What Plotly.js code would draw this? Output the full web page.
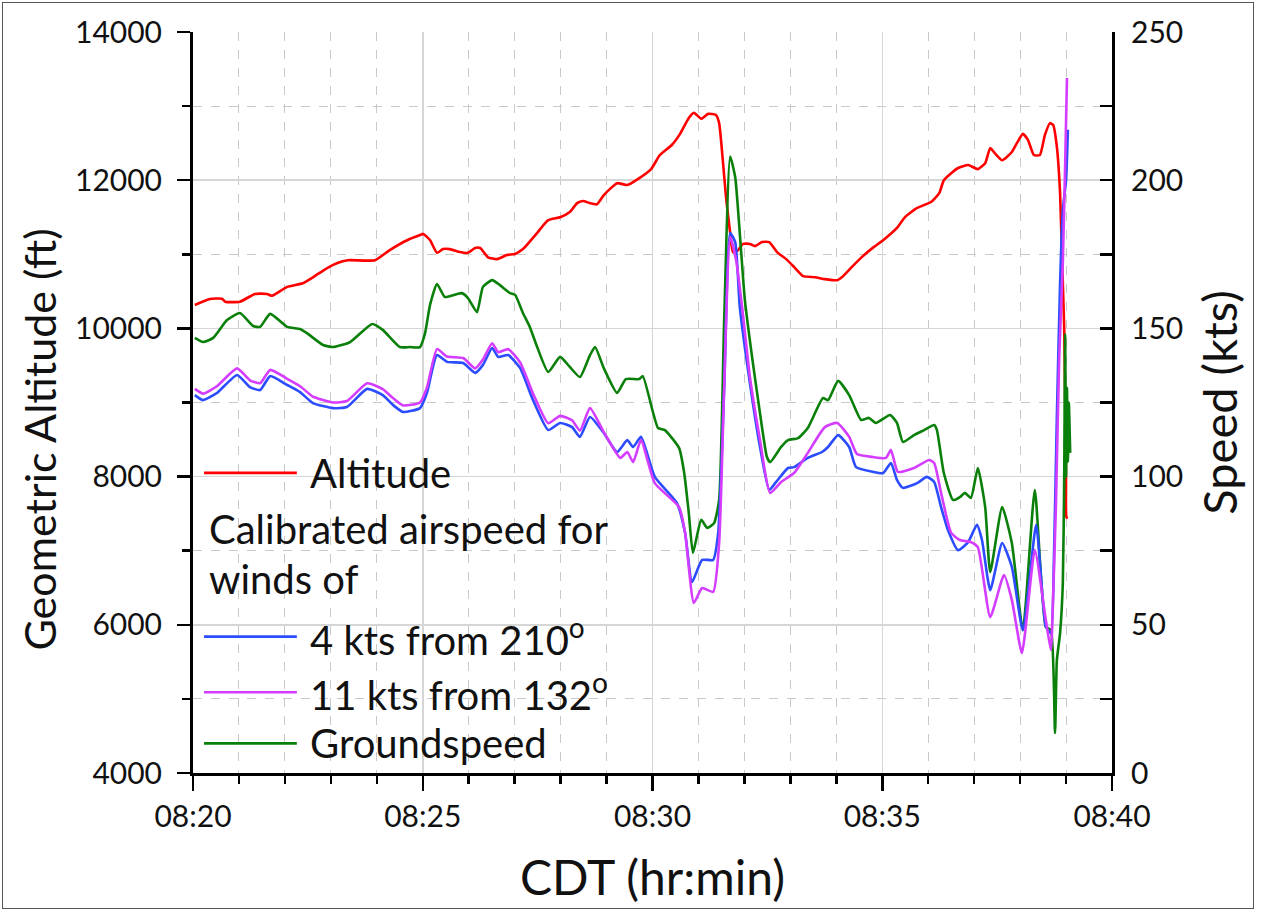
<!DOCTYPE html>
<html>
<head>
<meta charset="utf-8">
<script src="https://cdn.plot.ly/plotly-3.0.1.min.js"></script>
<style>
  body { margin: 0; background: #fff; }
  #plot { width: 1261px; height: 912px; }
  #frame { position: absolute; left: 2px; top: 2px; width: 1250px; height: 905px; border: 1.5px solid #555; pointer-events: none; }
</style>
</head>
<body>
<div id="plot"></div>
<div id="frame"></div>
<script>
// time in minutes after 08:20 CDT
const altT = [0.04,0.37,0.63,0.70,1.02,1.35,1.61,1.72,2.05,2.39,2.61,2.92,3.13,3.37,3.96,4.29,4.66,4.94,5.01,5.16,5.31,5.44,5.59,5.81,5.98,6.14,6.25,6.42,6.62,6.83,7.01,7.18,7.49,7.73,7.99,8.20,8.36,8.49,8.64,8.79,8.94,9.23,9.45,9.68,9.97,10.16,10.42,10.60,10.79,10.90,11.06,11.21,11.38,11.45,11.53,11.60,11.69,11.75,11.86,11.97,12.12,12.23,12.38,12.54,12.71,12.91,13.08,13.28,13.54,13.75,14.02,14.12,14.34,14.56,14.82,15.02,15.32,15.50,15.76,16.06,16.24,16.34,16.50,16.65,16.87,17.08,17.24,17.35,17.45,17.61,17.82,17.93,18.06,18.17,18.30,18.43,18.54,18.65,18.72,18.80,18.87,18.91,18.96,18.98,19.00,19.01,19.04];
const altFt = [10316,10397,10400,10360,10360,10465,10465,10440,10560,10610,10690,10815,10880,10920,10920,11060,11190,11260,11275,11190,11020,11070,11070,11030,11020,11085,11085,10960,10935,10990,11005,11070,11290,11460,11500,11570,11690,11720,11690,11675,11800,11960,11935,12015,12150,12340,12475,12625,12840,12910,12830,12895,12880,12770,12270,11770,11290,11030,11055,11140,11140,11110,11165,11165,11030,10935,10830,10705,10690,10665,10650,10690,10830,10965,11100,11190,11355,11505,11625,11705,11825,12000,12095,12165,12205,12150,12230,12435,12365,12270,12380,12500,12625,12545,12340,12340,12610,12770,12745,12450,11825,11000,10000,9000,8000,7450,7440];

const cas210T = [0.04,0.22,0.52,0.96,1.24,1.46,1.68,2.05,2.33,2.61,3.05,3.35,3.79,4.13,4.35,4.57,4.94,5.09,5.31,5.53,5.88,6.14,6.31,6.51,6.64,6.86,7.12,7.40,7.73,7.99,8.25,8.42,8.64,8.94,9.23,9.45,9.58,9.75,10.05,10.53,10.71,10.86,11.08,11.32,11.43,11.56,11.69,11.80,11.90,12.12,12.34,12.54,12.69,12.95,13.08,13.38,13.69,13.82,14.04,14.28,14.43,14.80,15.02,15.19,15.32,15.45,15.76,15.97,16.13,16.28,16.43,16.65,16.87,17.06,17.17,17.35,17.61,17.82,18.06,18.35,18.56,18.67,18.74,18.80,18.87,18.93,19.00,19.04];
const cas210Kts = [127.5,125.8,128.2,134.3,130.2,129.2,133.9,130.9,128.5,124.8,123.1,123.5,129.6,127.5,124.2,121.8,123.1,128.2,141,138.7,138.3,135,137.7,143.4,140.4,141,136.6,125.8,115.7,118.1,116.7,113.4,120.1,114.7,108.3,112.3,110,113.4,99.9,91.1,81,64.4,71.9,71.9,81,130,182.2,179.1,157.2,131.6,110,95.5,98.2,102.9,103.2,106.3,108.3,110,114,110,103.2,101.6,101.2,104.6,98.9,96.2,97.8,99.9,98.2,89.7,82,75.2,77.9,83.7,78.6,61.7,77.6,69.5,48.2,83.7,49.3,47.2,75,120,165,190,200,217];

const cas132T = [0.04,0.22,0.52,0.96,1.24,1.46,1.68,2.05,2.33,2.61,3.05,3.35,3.79,4.13,4.35,4.57,4.94,5.09,5.31,5.53,5.88,6.14,6.31,6.51,6.64,6.86,7.12,7.40,7.73,7.99,8.25,8.42,8.64,8.94,9.30,9.45,9.58,9.75,10.05,10.58,10.71,10.90,11.08,11.32,11.45,11.56,11.69,11.82,11.95,12.12,12.34,12.56,12.80,13.08,13.38,13.75,14.02,14.28,14.45,14.80,15.08,15.19,15.34,15.69,16.02,16.13,16.28,16.50,16.69,16.93,17.08,17.35,17.65,17.82,18.04,18.32,18.56,18.67,18.72,18.78,18.85,18.93,18.98,19.02];
const cas132Kts = [129.6,128,130.5,136.5,132.5,131.5,136,133,130.5,127,125,125.5,131.5,129.5,126.5,124,125,130,143,140.5,140,136.5,139.5,145,142,143,138.5,128,118,120.5,119,115.5,123.1,115,106.3,108.3,104.9,112.3,97.8,89.7,81,57.4,62.4,61.1,77.6,130,180.8,173,157.2,133.6,112.3,94.5,98.2,101.2,108,116.7,118.1,113.4,107.6,106.6,106.3,109,101.6,102.9,105.6,104.6,94.5,81,78.6,77.9,76.2,52.6,66.8,58.4,40.5,75.2,51.6,41.5,60,90.4,139.7,172.4,205,234.5];

const gsT = [0.04,0.22,0.44,0.74,1.02,1.31,1.46,1.68,2.05,2.33,2.48,2.83,3.05,3.42,3.90,4.13,4.50,4.72,4.94,5.05,5.16,5.31,5.48,5.75,5.85,5.98,6.18,6.31,6.51,6.68,6.90,7.01,7.18,7.33,7.49,7.73,7.99,8.20,8.42,8.64,8.75,8.94,9.23,9.42,9.71,9.79,10.12,10.27,10.58,10.69,10.79,10.88,11.06,11.19,11.34,11.45,11.56,11.69,11.80,11.90,12.01,12.17,12.32,12.49,12.56,12.80,12.95,13.17,13.38,13.71,13.82,14.04,14.28,14.54,14.71,14.86,15.17,15.32,15.45,15.69,15.91,16.13,16.19,16.34,16.54,16.69,16.80,16.93,17.08,17.24,17.35,17.61,17.82,18.06,18.32,18.56,18.67,18.76,18.80,18.87,18.93,18.96,18.98,19.00,19.02,19.04,19.06,19.09];
const gsKts = [146.8,145.4,146.8,152.8,155.2,150.8,150.5,154.9,150.5,149.8,148.4,144.4,143.7,145.4,151.5,149.5,143.7,143.7,143.7,148.4,158,165,160.6,161.6,161.9,160.3,155.5,164,166.3,164.6,161.9,161.3,155.2,150.5,143.7,135.3,140.4,137,133.6,141,143.7,136.6,128.2,132.9,132.9,133.9,116.4,115.7,109.6,101.2,87.7,74.2,85.4,82.7,84.3,92.1,152.8,208,201,182,159.6,140,123.5,106.6,104.9,110,112.3,113,116.4,126.5,125.8,132.3,127.5,119.1,119.8,118.1,120.8,118.1,111.7,114,115.7,117.4,115.7,101.2,92.1,93.1,94.5,92.8,102.9,89.7,67.8,89.7,77.6,48.2,95.5,49.3,48.2,13.5,38,47.2,64.1,100,148,100,130,105,125,108];

const xTickVals = [0,5,10,15,20];
const xTickText = ['08:20','08:25','08:30','08:35','08:40'];

const legendNames = ['Altitude','Calibrated airspeed for','winds of','4 kts from 210<sup>o</sup>','11 kts from 132<sup>o</sup>','Groundspeed'];
const colors = {alt:'#ff0000', c210:'#2b4cff', c132:'#d43dff', gs:'#0a800a'};

const FONT = 'Lato, "Open Sans", sans-serif';
const LW = 2.6;
const lineStyle = c => ({color:c, width:LW, shape:'spline', smoothing:0.5});

const traces = [
  {x: altT, y: altFt, name: legendNames[0], type:'scatter', mode:'lines', line:lineStyle(colors.alt), yaxis:'y'},
  {x: gsT, y: gsKts, name: legendNames[5], type:'scatter', mode:'lines', line:lineStyle(colors.gs), yaxis:'y2'},
  {x: cas210T, y: cas210Kts, name: legendNames[3], type:'scatter', mode:'lines', line:lineStyle(colors.c210), yaxis:'y2'},
  {x: cas132T, y: cas132Kts, name: legendNames[4], type:'scatter', mode:'lines', line:lineStyle(colors.c132), yaxis:'y2'}
];

// manual legend (paper coordinates)
const lx0 = 0.012, lx1 = 0.113, ltx = 0.125, ltx2 = 0.0152;
const legendRows = [
  {y:0.405, color:colors.alt, text:legendNames[0], x:ltx, line:true},
  {y:0.329, color:null, text:legendNames[1], x:ltx2, line:false},
  {y:0.262, color:null, text:legendNames[2], x:ltx2, line:false},
  {y:0.184, color:colors.c210, text:legendNames[3], x:ltx, line:true},
  {y:0.109, color:colors.c132, text:legendNames[4], x:ltx, line:true},
  {y:0.040, color:colors.gs, text:legendNames[5], x:ltx, line:true}
];
const shapes = legendRows.filter(r => r.line).map(r => ({
  type:'line', xref:'paper', yref:'paper', x0:lx0, x1:lx1, y0:r.y, y1:r.y,
  line:{color:r.color, width:LW}
}));
const annotations = legendRows.map(r => ({
  xref:'paper', yref:'paper', x:r.x, y:r.y, xanchor:'left', yanchor:'middle',
  text:r.text, showarrow:false, font:{family:FONT, size:40, color:'#111'}
}));
// left axis title (placed as in the reference, slightly below centre)
annotations.push({
  xref:'paper', yref:'paper', x:-0.1665, y:0.45, xanchor:'center', yanchor:'middle',
  textangle:-90, text:'Geometric Altitude (ft)', showarrow:false,
  font:{family:FONT, size:43, color:'#111'}
});

const gridMinor = {showgrid:true, griddash:'dash', gridcolor:'#c9c9c9', gridwidth:1};

const layout = {
  width:1261, height:912,
  margin:{l:193, r:149, t:32, b:139},
  paper_bgcolor:'#fff', plot_bgcolor:'#fff',
  showlegend:false,
  font:{family:FONT, color:'#111'},
  xaxis:{
    range:[0,20], tickmode:'array', tickvals:xTickVals, ticktext:xTickText,
    showline:true, linecolor:'#000', linewidth:3,
    ticks:'outside', ticklen:15, tickwidth:2.5, tickcolor:'#000',
    showgrid:true, gridcolor:'#d6d6d6', gridwidth:1.5, zeroline:false,
    tickfont:{family:FONT, size:30, color:'#111'},
    minor:Object.assign({tickmode:'linear', tick0:0, dtick:1, ticks:'outside', ticklen:8, tickwidth:2.5, tickcolor:'#000'}, gridMinor),
    title:{text:'CDT (hr:min)', font:{family:FONT, size:48, color:'#111'}, standoff:30},
    automargin:false
  },
  yaxis:{
    range:[4000,14000], tickmode:'linear', tick0:4000, dtick:2000, tickformat:'d',
    showline:true, linecolor:'#000', linewidth:3,
    ticks:'outside', ticklen:13, tickwidth:2.5, tickcolor:'#000', ticklabelstandoff:9,
    showgrid:true, gridcolor:'#d6d6d6', gridwidth:1.5, zeroline:false,
    tickfont:{family:FONT, size:30, color:'#111'},
    minor:Object.assign({tickmode:'linear', tick0:4000, dtick:1000, ticks:'outside', ticklen:8, tickwidth:2.5, tickcolor:'#000'}, gridMinor),
    automargin:false
  },
  yaxis2:{
    range:[0,250], overlaying:'y', side:'right', tickmode:'linear', tick0:0, dtick:50,
    showline:true, linecolor:'#000', linewidth:3,
    ticks:'inside', ticklen:12, tickwidth:2.5, tickcolor:'#000', ticklabelstandoff:10,
    showgrid:false, zeroline:false,
    tickfont:{family:FONT, size:30, color:'#111'},
    minor:{tickmode:'linear', tick0:0, dtick:25, ticks:'inside', ticklen:12, tickwidth:2.5, tickcolor:'#000', showgrid:false},
    title:{text:'Speed (kts)', font:{family:FONT, size:47, color:'#111'}, standoff:22},
    automargin:false
  },
  shapes:shapes,
  annotations:annotations
};

Plotly.newPlot('plot', traces, layout, {displayModeBar:false, staticPlot:true});
</script>
</body>
</html>
